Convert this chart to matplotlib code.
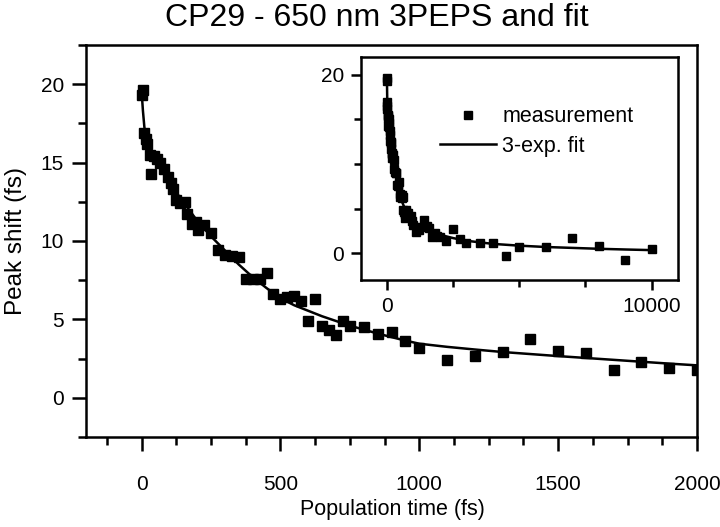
import matplotlib
matplotlib.use("Agg")
import matplotlib.pyplot as plt
from matplotlib.ticker import MultipleLocator, FixedLocator

plt.rcParams['font.family'] = ['Liberation Sans', 'DejaVu Sans']

# measured peak shift (fs) vs population time (fs)
time_fs = [0, 5, 10, 15, 20, 30, 35, 45, 55, 65, 80, 95, 105, 115, 125, 140,
           155, 165, 180, 195, 205, 225, 250, 275, 300, 325, 350, 375, 400,
           425, 450, 475, 500, 525, 550, 575, 600, 625, 650, 675, 700, 725,
           750, 800, 850, 900, 950, 1000, 1100, 1200, 1300, 1400, 1500, 1600,
           1700, 1800, 1900, 2000, 2250, 2500, 2750, 3000, 3500, 4000, 4500,
           5000, 6000, 7000, 8000, 9000, 10000]
peak_shift = [19.3, 19.6, 16.9, 16.5, 16.2, 15.5, 14.3, 15.4, 15.2, 15.0, 14.6,
              14.1, 13.7, 13.3, 12.6, 12.4, 12.5, 11.7, 11.1, 11.2, 10.7, 11.0,
              10.5, 9.4, 9.1, 9.05, 9.0, 7.6, 7.55, 7.6, 7.95, 6.6, 6.3, 6.45,
              6.5, 6.2, 4.9, 6.3, 4.6, 4.35, 4.0, 4.9, 4.55, 4.5, 4.1, 4.2, 3.65,
              3.2, 2.4, 2.65, 2.95, 3.75, 3.0, 2.85, 1.8, 2.3, 1.9, 1.8, 1.35,
              2.7, 1.6, 1.1, 1.2, 1.1, -0.35, 0.75, 0.65, 1.75, 0.8, -0.8, 0.5]

# 3-exponential fit curve
fit_t = [0, 5, 10, 15, 20, 30, 40, 60, 80, 100, 125, 150, 175, 200, 250, 300,
         350, 400, 450, 500, 550, 600, 650, 700, 750, 800, 850, 900, 950, 1000,
         1100, 1200, 1300, 1400, 1500, 1600, 1700, 1800, 1900, 2000, 2500,
         3000, 4000, 5000, 6000, 7000, 8000, 9000, 10000]
fit_y = [19.6, 18.3, 17.3, 16.6, 16.2, 15.7, 15.35, 14.8, 14.3, 13.8, 13.1,
         12.5, 11.9, 11.3, 10.3, 9.4, 8.5, 7.7, 7.0, 6.35, 5.9, 5.55, 5.2,
         4.9, 4.6, 4.35, 4.1, 3.87, 3.65, 3.45, 3.25, 3.08, 2.92, 2.79, 2.66,
         2.54, 2.42, 2.3, 2.18, 2.07, 1.7, 1.4, 1.05, 0.85, 0.7, 0.6, 0.5,
         0.42, 0.35]

title = "CP29 - 650 nm 3PEPS and fit"
xlabel = "Population time (fs)"
ylabel = "Peak shift (fs)"

fig = plt.figure(figsize=(7.2, 5.27), dpi=100)

# main axes
ax = fig.add_axes([86/720, 1-437/527, 611/720, 392/527])
ax.plot(fit_t, fit_y, color='black', lw=1.8, zorder=2)
ax.plot(time_fs, peak_shift, 's', color='black', ms=7, zorder=3)
ax.set_xlim(-200, 2000)
ax.set_ylim(-2.5, 22.5)
ax.xaxis.set_major_locator(FixedLocator([0, 500, 1000, 1500, 2000]))
ax.xaxis.set_minor_locator(MultipleLocator(125))
ax.yaxis.set_major_locator(FixedLocator([0, 5, 10, 15, 20]))
ax.yaxis.set_minor_locator(MultipleLocator(2.5))
for s in ax.spines.values():
    s.set_linewidth(1.8)
ax.tick_params(which='major', direction='out', length=10, width=1.8,
               labelsize=15, pad=6)
ax.tick_params(which='minor', direction='out', length=5.5, width=1.8)
ax.tick_params(axis='x', which='major', pad=17)

fig.text(377/720, 1-18/527, title, ha='center', va='center', fontsize=23)
fig.text(392/720, 1-510/527, xlabel, ha='center', va='center', fontsize=15.5)
fig.text(16/720, 1-241/527, ylabel, ha='center', va='center', fontsize=17.5,
         rotation=90)

# inset
ax_in = fig.add_axes([360.5/720, 1-280/527, 317.5/720, 223/527])
ax_in.plot(fit_t, fit_y, color='black', lw=1.8, zorder=2, label='3-exp. fit')
ax_in.plot(time_fs, peak_shift, 's', color='black', ms=6, zorder=3,
           label='measurement')
ax_in.set_xlim(-1000, 11000)
ax_in.set_ylim(-3, 22)
ax_in.xaxis.set_major_locator(FixedLocator([0, 10000]))
ax_in.xaxis.set_minor_locator(MultipleLocator(2500))
ax_in.yaxis.set_major_locator(FixedLocator([0, 20]))
ax_in.yaxis.set_minor_locator(MultipleLocator(5))
for s in ax_in.spines.values():
    s.set_linewidth(1.8)
ax_in.tick_params(which='major', direction='out', length=7, width=1.8,
                  labelsize=15, pad=5)
ax_in.tick_params(which='minor', direction='out', length=5, width=1.8)

h, l = ax_in.get_legend_handles_labels()
ax_in.legend([h[1], h[0]], [l[1], l[0]], frameon=False, fontsize=15.5,
             loc='upper left', bbox_to_anchor=(0.25, 0.78),
             handlelength=2.6, handletextpad=0.3, labelspacing=0.4,
             borderaxespad=0, borderpad=0)

fig.savefig("out.png", dpi=100)
